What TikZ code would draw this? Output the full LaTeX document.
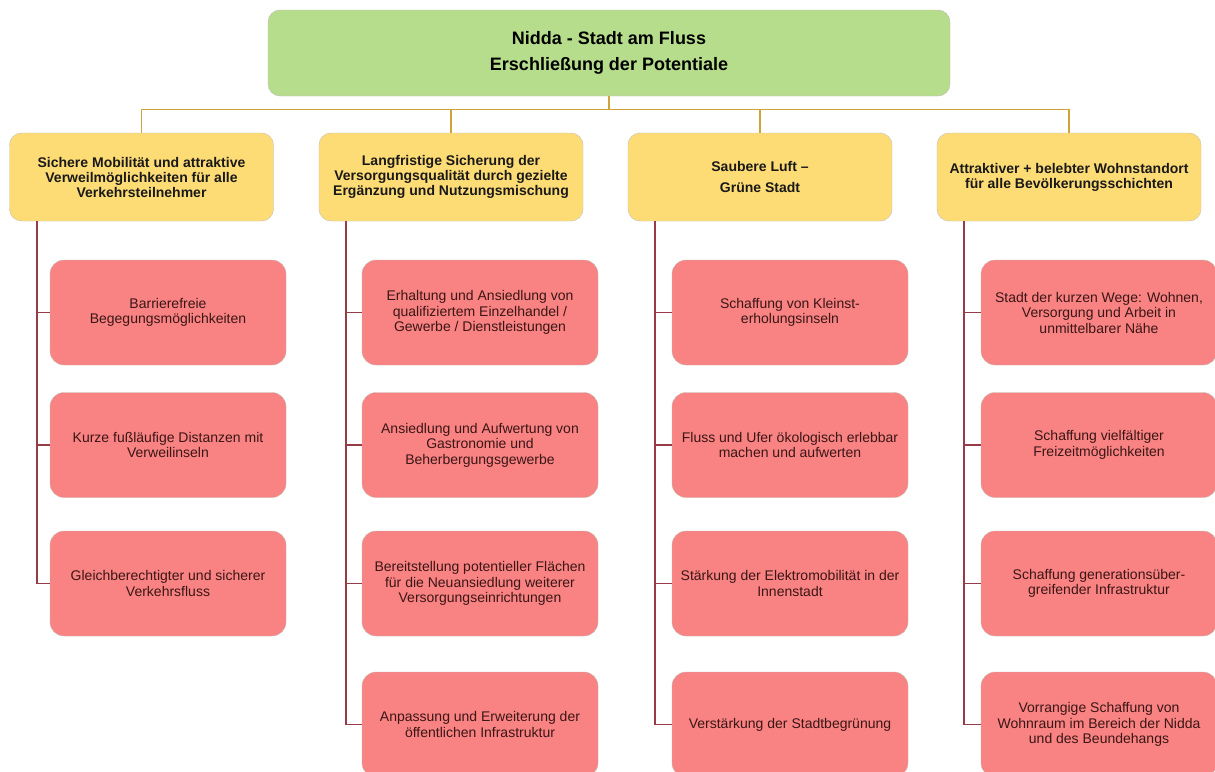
\documentclass[tikz,border=0pt]{standalone}
\usepackage{fontspec}
\setmainfont{Liberation Sans}
\usepackage{tikz}

\definecolor{leitgreen}{HTML}{B5DD8B}
\definecolor{zielyellow}{HTML}{FEDC75}
\definecolor{massred}{HTML}{F98282}
\definecolor{boxline}{HTML}{C4BDB6}
\definecolor{busgold}{HTML}{CFA23C}
\definecolor{spinered}{HTML}{953C48}
\definecolor{masstext}{HTML}{3A1616}

\begin{document}
\begin{tikzpicture}[x=1pt,y=1pt]
\tikzstyle{leitbox}=[draw=boxline, fill=leitgreen, rounded corners=12pt, minimum width=682pt, minimum height=86pt, align=center, font=\bfseries\fontsize{18}{26}\selectfont]
\tikzstyle{zielbox}=[draw=boxline, fill=zielyellow, rounded corners=12pt, minimum width=264pt, minimum height=88pt, align=center, inner sep=2pt, text=black!90, font=\bfseries\fontsize{14}{15}\selectfont]
\tikzstyle{massbox}=[draw=boxline, fill=massred, rounded corners=14pt, minimum width=236pt, minimum height=105pt, align=center, inner sep=2pt, text=masstext, font=\fontsize{14}{15.5}\selectfont]
\tikzstyle{bus}=[busgold, line width=1.8pt]
\tikzstyle{spine}=[spinered, line width=1.8pt]
\clip (0,0) rectangle (1215,-771);
\fill [white] (0,0) rectangle (1215,-771);
\node [leitbox] (leit) at (609,-53) {Nidda - Stadt am Fluss\\Erschließung der Potentiale};
\node [zielbox] (z1) at (141.5,-177) {Sichere Mobilität und attraktive\\Verweilmöglichkeiten für alle\\Verkehrsteilnehmer};
\node [zielbox] (z2) at (451,-177) {Langfristige Sicherung der\\Versorgungsqualität durch gezielte\\Ergänzung und Nutzungsmischung};
\node [zielbox] (z3) at (760,-177) {Saubere Luft –\\[6pt]Grüne Stadt};
\node [zielbox] (z4) at (1069,-177) {Attraktiver + belebter Wohnstandort\\für alle Bevölkerungsschichten};
\node [massbox] (m11) at (168,-312.5) {Barrierefreie\\Begegungsmöglichkeiten};
\node [massbox] (m12) at (168,-445) {Kurze fußläufige Distanzen mit\\Verweilinseln};
\node [massbox] (m13) at (168,-583.5) {Gleichberechtigter und sicherer\\Verkehrsfluss};
\node [massbox] (m21) at (480,-312.5) {Erhaltung und Ansiedlung von\\qualifiziertem Einzelhandel /\\Gewerbe / Dienstleistungen};
\node [massbox] (m22) at (480,-445) {Ansiedlung und Aufwertung von\\Gastronomie und\\Beherbergungsgewerbe};
\node [massbox] (m23) at (480,-583.5) {Bereitstellung potentieller Flächen\\für die Neuansiedlung weiterer\\Versorgungseinrichtungen};
\node [massbox] (m24) at (480,-724.5) {Anpassung und Erweiterung der\\öffentlichen Infrastruktur};
\node [massbox] (m31) at (790,-312.5) {Schaffung von Kleinst-\\erholungsinseln};
\node [massbox] (m32) at (790,-445) {Fluss und Ufer ökologisch erlebbar\\machen und aufwerten};
\node [massbox] (m33) at (790,-583.5) {Stärkung der Elektromobilität in der\\Innenstadt};
\node [massbox] (m34) at (790,-724.5) {Verstärkung der Stadtbegrünung};
\node [massbox] (m41) at (1099,-312.5) {Stadt der kurzen Wege: Wohnen,\\Versorgung und Arbeit in\\unmittelbarer Nähe};
\node [massbox] (m42) at (1099,-445) {Schaffung vielfältiger\\Freizeitmöglichkeiten};
\node [massbox] (m43) at (1099,-583.5) {Schaffung generationsüber-\\greifender Infrastruktur};
\node [massbox] (m44) at (1099,-724.5) {Vorrangige Schaffung von\\Wohnraum im Bereich der Nidda\\und des Beundehangs};
\coordinate (knot) at (609,-109.5);
\coordinate (s1) at (37,-221);
\coordinate (s2) at (346,-221);
\coordinate (s3) at (655,-221);
\coordinate (s4) at (964,-221);
\begin{scope}[on background layer/.try]
\draw [bus] (leit.south) -- (knot);
\draw [bus] (z1.north) |- (knot) -| (z4.north);
\draw [bus] (z2.north) -- (z2.north |- knot);
\draw [bus] (z3.north) -- (z3.north |- knot);
\draw [spine] (s1) |- (m11.west);
\draw [spine] (s1) |- (m12.west);
\draw [spine] (s1) |- (m13.west);
\draw [spine] (s2) |- (m21.west);
\draw [spine] (s2) |- (m22.west);
\draw [spine] (s2) |- (m23.west);
\draw [spine] (s2) |- (m24.west);
\draw [spine] (s3) |- (m31.west);
\draw [spine] (s3) |- (m32.west);
\draw [spine] (s3) |- (m33.west);
\draw [spine] (s3) |- (m34.west);
\draw [spine] (s4) |- (m41.west);
\draw [spine] (s4) |- (m42.west);
\draw [spine] (s4) |- (m43.west);
\draw [spine] (s4) |- (m44.west);
\end{scope}
\end{tikzpicture}
\end{document}
